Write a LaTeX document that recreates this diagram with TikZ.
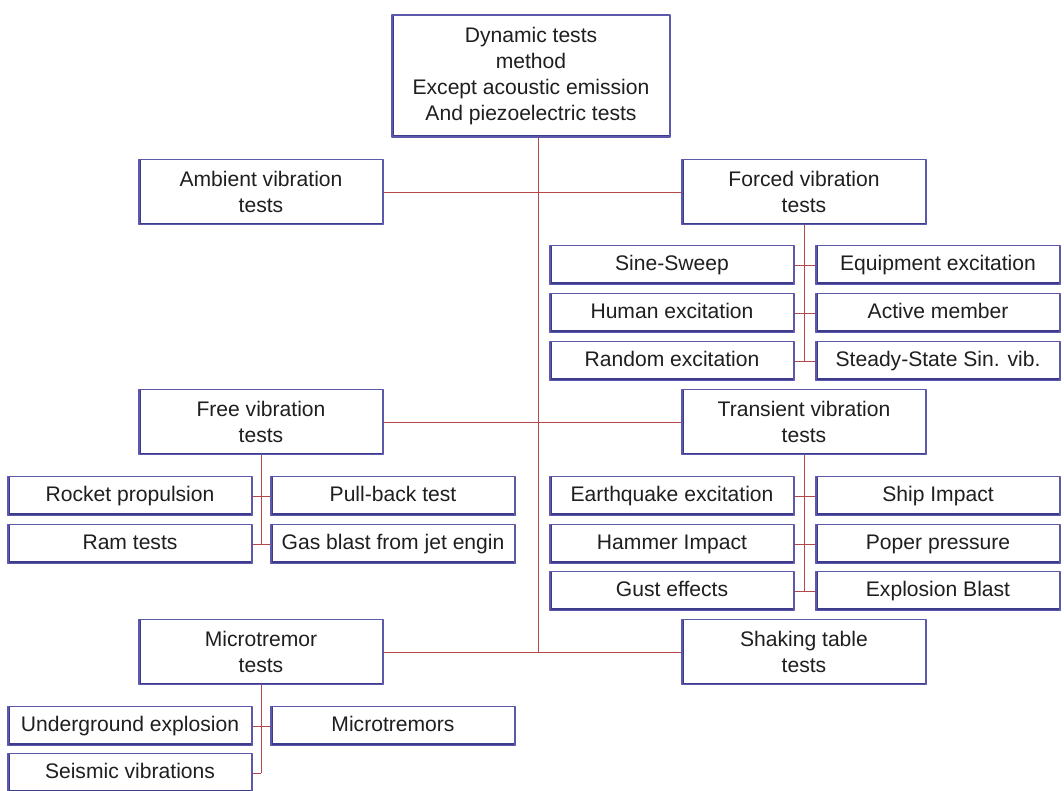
\documentclass[tikz,border=0pt]{standalone}
\usepackage{fontspec}
\setmainfont{Liberation Sans}
\definecolor{boxedge}{RGB}{92,88,172}
\definecolor{boxshade}{RGB}{62,58,140}
\definecolor{linkred}{RGB}{180,72,72}
\tikzset{
  box/.style={draw=boxedge,line width=1.2pt,fill=white,align=center,inner sep=1pt,
    font=\fontsize{15}{18.5}\selectfont,text=black!88,
    path picture={\draw[boxshade,line width=3pt]
      (path picture bounding box.north west) -- (path picture bounding box.south west)
      -- (path picture bounding box.south east);}},
  midbox/.style={box,minimum width=6.1cm,minimum height=1.63cm},
  leafbox/.style={box,minimum width=6.1cm,minimum height=0.97cm,text height=11pt,text depth=3.5pt},
  link/.style={draw=linkred,line width=0.6pt}
}
\begin{document}
\begin{tikzpicture}[x=0.025cm,y=-0.025cm,line join=round]
	\useasboundingbox (0,0) rectangle (1064,790);
	% Khung trên cùng
	\node[box,minimum width=6.95cm,minimum height=3.05cm] (dyn) at (531,76)
	{Dynamic tests\\method\\Except acoustic emission\\And piezoelectric tests};
	\coordinate (spine) at ([xshift=0.175cm]dyn.south);
	% Các nhóm chính
	\node[midbox] (amb) at (261,192) {Ambient vibration\\tests};
	\node[midbox] (forced) at (804,192) {Forced vibration\\tests};
	\node[midbox] (free) at (261,422) {Free vibration\\tests};
	\node[midbox] (trans) at (804,422) {Transient vibration\\tests};
	\node[midbox] (micro) at (261,652) {Microtremor\\tests};
	\node[midbox] (shake) at (804,652) {Shaking table\\tests};
	% Nhánh dao động cưỡng bức
	\node[leafbox] (sine) at (672,265) {Sine-Sweep};
	\node[leafbox] (equip) at (938,265) {Equipment excitation};
	\node[leafbox] (human) at (672,313) {Human excitation};
	\node[leafbox] (active) at (938,313) {Active member};
	\node[leafbox] (random) at (672,361) {Random excitation};
	\node[leafbox] (steady) at (938,361) {Steady-State Sin. vib.};
	% Nhánh dao động chuyển tiếp
	\node[leafbox] (earth) at (672,496) {Earthquake excitation};
	\node[leafbox] (ship) at (938,496) {Ship Impact};
	\node[leafbox] (hammer) at (672,544) {Hammer Impact};
	\node[leafbox] (poper) at (938,544) {Poper pressure};
	\node[leafbox] (gust) at (672,591) {Gust effects};
	\node[leafbox] (blast) at (938,591) {Explosion Blast};
	% Nhánh dao động tự do
	\node[leafbox] (rocket) at (130,496) {Rocket propulsion};
	\node[leafbox] (pull) at (393,496) {Pull-back test};
	\node[leafbox] (ram) at (130,544) {Ram tests};
	\node[leafbox] (gas) at (393,544) {Gas blast from jet engin};
	% Nhánh vi chấn
	\node[leafbox] (under) at (130,726) {Underground explosion};
	\node[leafbox] (tremors) at (393,726) {Microtremors};
	\node[leafbox] (seismic) at (130,773) {Seismic vibrations};
	% Vẽ các đường nối
	\draw[link] (spine) -- (spine |- micro.east);
	\draw[link] (amb.east) -- (forced.west);
	\draw[link] (free.east) -- (trans.west);
	\draw[link] (micro.east) -- (shake.west);
	\draw[link] (forced.south) -- (forced.south |- random.east);
	\foreach \a/\b in {sine/equip,human/active,random/steady}
	\draw[link] (\a.east) -- (\b.west);
	\draw[link] (trans.south) -- (trans.south |- gust.east);
	\foreach \a/\b in {earth/ship,hammer/poper,gust/blast}
	\draw[link] (\a.east) -- (\b.west);
	\draw[link] (free.south) -- (free.south |- ram.east);
	\foreach \a/\b in {rocket/pull,ram/gas}
	\draw[link] (\a.east) -- (\b.west);
	\coordinate (seisj) at (micro.south |- seismic.east);
	\draw[link] (micro.south) -- (seisj);
	\draw[link] (under.east) -- (tremors.west);
	\draw[link] (seismic.east) -- (seisj);
\end{tikzpicture}
\end{document}
